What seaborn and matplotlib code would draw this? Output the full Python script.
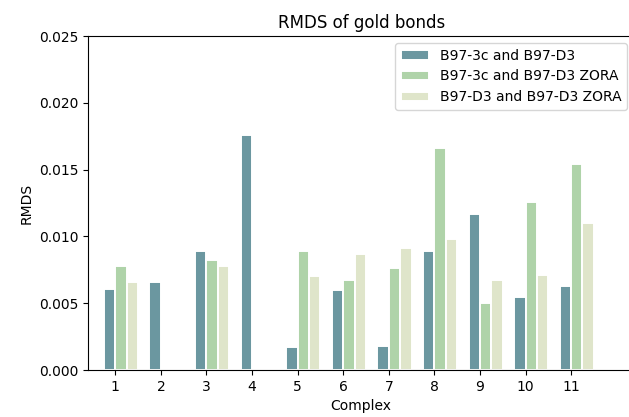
import numpy as np
import pandas as pd
import matplotlib
matplotlib.use("Agg")
import matplotlib.pyplot as plt
import seaborn as sns

# RMDS of gold bonds per complex for three method pairs
complexes = [1, 2, 3, 4, 5, 6, 7, 8, 9, 10, 11]
series_names = ["B97-3c and B97-D3",
                "B97-3c and B97-D3 ZORA",
                "B97-D3 and B97-D3 ZORA"]
rmds_3c_d3 = [0.0061, 0.0066, 0.0089, 0.0176, 0.0017, 0.0060,
              0.0018, 0.0089, 0.0117, 0.0055, 0.0063]
rmds_3c_zora = [0.0078, np.nan, 0.0082, np.nan, 0.0089, 0.0067,
                0.0076, 0.0166, 0.0050, 0.0126, 0.0154]
rmds_d3_zora = [0.0066, np.nan, 0.0078, np.nan, 0.0070, 0.0087,
                0.0091, 0.0098, 0.0067, 0.0071, 0.0110]
colors = ["#6b97a0", "#afd3a9", "#dfe5ca"]
yticks = [0.000, 0.005, 0.010, 0.015, 0.020, 0.025]

frames = []
for name, vals in zip(series_names, [rmds_3c_d3, rmds_3c_zora, rmds_d3_zora]):
    frames.append(pd.DataFrame({"Complex": complexes, "RMDS": vals, "Pair": name}))
df = pd.concat(frames, ignore_index=True)
# groups start at the tick: first bar sits just left of it
df["pos"] = df["Complex"] + 0.125

fig = plt.figure(figsize=(6.29, 4.17), dpi=100)
ax = fig.add_axes([88.3 / 629, 47 / 417, (634 - 88.3) / 629, 334 / 417])

sns.barplot(data=df, x="pos", y="RMDS", hue="Pair", hue_order=series_names,
            palette=colors, native_scale=True, width=0.75, saturation=1,
            errorbar=None, edgecolor="white", linewidth=1.4, ax=ax)

ax.set_xlim(0.4075, 12.38)
ax.set_ylim(0, 0.025)
ax.set_xticks(complexes)
ax.set_xticklabels([str(c) for c in complexes])
ax.set_yticks(yticks)
ax.set_xlabel("Complex")
ax.set_ylabel("RMDS")
ax.set_title("RMDS of gold bonds")

handles, labels = ax.get_legend_handles_labels()
ax.legend(handles, labels, loc="upper right")

fig.savefig("out.png", dpi=100)
